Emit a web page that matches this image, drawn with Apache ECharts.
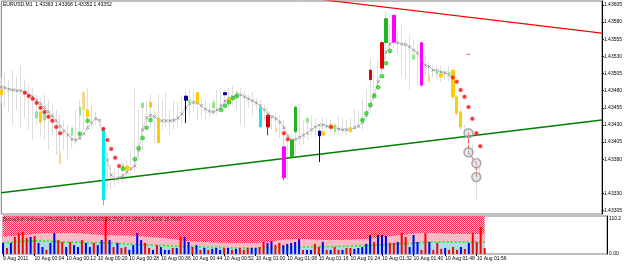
<!DOCTYPE html>
<html>
<head>
<meta charset="utf-8">
<script src="https://cdn.jsdelivr.net/npm/echarts@6/dist/echarts.min.js"></script>
<style>
  html, body { margin: 0; padding: 0; background: #fff; }
  #chart { width: 625px; height: 264px; }
</style>
</head>
<body>
<div id="chart"></div>
<script>
// EURUSD M1, one slot per minute starting 9 Aug 23:56, empty slots on the right (chart shift)
const slotCount = 154;
const tickLabels = ['9 Aug 2011', '10 Aug 00:04', '10 Aug 00:12', '10 Aug 00:20', '10 Aug 00:28',
  '10 Aug 00:36', '10 Aug 00:44', '10 Aug 00:52', '10 Aug 01:00', '10 Aug 01:08', '10 Aug 01:16',
  '10 Aug 01:24', '10 Aug 01:32', '10 Aug 01:40', '10 Aug 01:48', '10 Aug 01:56'];
const priceTicks = [1.43305, 1.43330, 1.43380, 1.43405, 1.43430, 1.43455, 1.43480,
  1.43505, 1.43530, 1.43555, 1.43580, 1.43605];
const lastPrice = 1.43352;
const headerText = 'EURUSD,M1  1.43363 1.43368 1.43352 1.43352';
const volumeText = 'BumaSoft Volume 105.0000 52.5000 35.0000 26.2500 21.0000 17.5000 15.0000';

const highs = [1.43499,1.43507,1.43496,1.43510,1.43501,1.43516,1.43496,1.43488,1.43484,1.43474,
  1.43469,1.43474,1.43466,1.43459,1.43452,1.43444,1.43437,1.43430,1.43423,1.43452,
  1.43466,1.43474,1.43484,1.43459,1.43449,1.43437,1.43426,1.43393,1.43372,1.43367,
  1.43367,1.43376,1.43379,1.43393,1.43484,1.43452,1.43452,1.43466,1.43474,1.43452,
  1.43474,1.43466,1.43478,1.43452,1.43466,1.43463,1.43474,1.43478,1.43481,1.43478,
  1.43474,1.43469,1.43466,1.43463,1.43469,1.43481,1.43484,1.43481,1.43484,1.43488,
  1.43481,1.43484,1.43481,1.43474,1.43478,1.43469,1.43466,1.43459,1.43455,1.43444,
  1.43449,1.43444,1.43437,1.43408,1.43415,1.43459,1.43461,1.43437,1.43440,1.43444,
  1.43440,1.43430,1.43440,1.43440,1.43437,1.43434,1.43444,1.43440,1.43437,1.43440,
  1.43452,1.43452,1.43466,1.43481,1.43528,1.43510,1.43525,1.43554,1.43595,1.43576,
  1.43590,1.43569,1.43576,1.43554,1.43561,1.43554,1.43547,1.43550,1.43532,1.43522,
  1.43517,1.43517,1.43517,1.43513,1.43516,1.43510,1.43474,1.43452,1.43430,1.43423,
  1.43401,1.43379,1.43368];
const lows = [1.43463,1.43455,1.43449,1.43430,1.43452,1.43426,1.43440,1.43423,1.43408,1.43430,
  1.43415,1.43408,1.43393,1.43415,1.43386,1.43372,1.43393,1.43379,1.43396,1.43401,
  1.43408,1.43423,1.43420,1.43426,1.43430,1.43426,1.43313,1.43338,1.43335,1.43341,
  1.43344,1.43345,1.43353,1.43357,1.43361,1.43379,1.43393,1.43430,1.43426,1.43404,
  1.43420,1.43423,1.43426,1.43415,1.43423,1.43426,1.43431,1.43430,1.43440,1.43449,
  1.43437,1.43444,1.43437,1.43440,1.43443,1.43444,1.43449,1.43459,1.43455,1.43459,
  1.43452,1.43430,1.43426,1.43455,1.43444,1.43452,1.43426,1.43437,1.43415,1.43423,
  1.43426,1.43411,1.43386,1.43350,1.43379,1.43382,1.43401,1.43401,1.43408,1.43415,
  1.43411,1.43376,1.43415,1.43423,1.43420,1.43415,1.43415,1.43418,1.43415,1.43420,
  1.43423,1.43426,1.43423,1.43437,1.43449,1.43466,1.43481,1.43507,1.43525,1.43532,
  1.43542,1.43532,1.43503,1.43496,1.43481,1.43525,1.43488,1.43484,1.43503,1.43496,
  1.43499,1.43496,1.43493,1.43496,1.43493,1.43466,1.43444,1.43423,1.43408,1.43386,
  1.43372,1.43321,1.43352];
// grey cross line (moving average)
const maLine = [1.43485,1.43484,1.43482,1.43481,1.43480,1.43480,1.43477,1.43474,1.43471,1.43466,
  1.43461,1.43455,1.43449,1.43443,1.43436,1.43428,1.43421,1.43415,1.43409,1.43408,
  1.43411,1.43417,1.43426,1.43433,1.43439,1.43437,1.43415,1.43379,1.43357,1.43351,
  1.43353,1.43356,1.43361,1.43366,1.43370,1.43393,1.43423,1.43440,1.43444,1.43442,
  1.43437,1.43436,1.43436,1.43436,1.43437,1.43440,1.43446,1.43455,1.43461,1.43463,
  1.43462,1.43458,1.43453,1.43450,1.43449,1.43452,1.43458,1.43465,1.43469,1.43471,
  1.43472,1.43474,1.43471,1.43468,1.43465,1.43462,1.43458,1.43452,1.43446,1.43442,
  1.43439,1.43434,1.43426,1.43414,1.43408,1.43409,1.43412,1.43415,1.43418,1.43423,
  1.43427,1.43430,1.43430,1.43428,1.43427,1.43426,1.43424,1.43423,1.43423,1.43423,
  1.43426,1.43428,1.43434,1.43444,1.43459,1.43474,1.43493,1.43513,1.43536,1.43548,
  1.43551,1.43550,1.43548,1.43547,1.43544,1.43539,1.43535,1.43525,1.43517,1.43515,
  1.43510,1.43509,1.43507,1.43506,1.43503,1.43499];

// coloured bodies: [bar, top, bottom, wick low (optional)]
const yellowBodies = [[0,1.43481,1.43474],[10,1.43449,1.43434],[22,1.43452,1.43442],[32,1.43370,1.43364],
  [38,1.43463,1.43456],[40,1.43440,1.43404],[50,1.43477,1.43462],[58,1.43469,1.43462],[82,1.43420,1.43415],
  [84,1.43430,1.43426],[89,1.43426,1.43420],[112,1.43504,1.43500],[115,1.43510,1.43471],
  [116,1.43471,1.43447],[117,1.43449,1.43427]];
const paleYellowBodies = [[15,1.43389,1.43374],[21,1.43478,1.43452],[70,1.43426,1.43420],[109,1.43503,1.43493]];
const lightGreenBodies = [[9,1.43449,1.43440],[11,1.43447,1.43437],[18,1.43426,1.43415],[20,1.43456,1.43444],
  [31,1.43372,1.43364],[36,1.43462,1.43455],[48,1.43466,1.43462],[54,1.43463,1.43455],[60,1.43478,1.43474],
  [78,1.43440,1.43434],[85,1.43430,1.43420],[92,1.43437,1.43433],[105,1.43532,1.43526],
  [111,1.43510,1.43504],[114,1.43507,1.43503]];
const greenBodies = [[74,1.43408,1.43383],[75,1.43456,1.43420],[98,1.43585,1.43550]];
const magentaBodies = [[72,1.43398,1.43353,1.43350],[100,1.43590,1.43551],[107,1.43550,1.43488]];
const cyanBodies = [[26,1.43426,1.43321,1.43313],[66,1.43455,1.43427]];
const redBodies = [[68,1.43444,1.43427,1.43415],[94,1.43510,1.43496],[97,1.43550,1.43513]];
const navyBodies = [[47,1.43472,1.43466,1.43433],[57,1.43477,1.43474],[81,1.43421,1.43414,1.43376]];

// parabolic SAR dots
const sarAbove = [[6,1.43477],[7,1.43472],[8,1.43468],[9,1.43462],[10,1.43455],[11,1.43449],[12,1.43442],
  [13,1.43436],[14,1.43427],[15,1.43418],[26,1.43424],[27,1.43408],[28,1.43395],[29,1.43382],[30,1.43370],
  [72,1.43418],[73,1.43409],[84,1.43427],[115,1.43499],[116,1.43493],[117,1.43481],[118,1.43471],
  [119,1.43456],[120,1.43439],[121,1.43418],[122,1.43399]];
const sarBelow = [[20,1.43417],[22,1.43436],[31,1.43366],[34,1.43380],[35,1.43396],[36,1.43411],[37,1.43426],
  [38,1.43437],[56,1.43452],[57,1.43458],[58,1.43463],[59,1.43469],[60,1.43472],[92,1.43437],[93,1.43447],
  [94,1.43459],[95,1.43472],[96,1.43485],[97,1.43501],[98,1.43520],[99,1.43538]];
const signalCircles = [[119,1.43418],[119,1.43390],[121,1.43374],[121,1.43354]];
const signalDash = [[119,1.43533]];

// trend lines
const resistanceLine = [[80,1.43614],[153,1.43564]];
const supportLine = [[0,1.43331],[153,1.43437]];

// volume panel
const volume = [35,19,35,54,66,70,51,54,57,35, 22,13,35,66,44,38,22,38,28,22,
  44,35,22,35,28,44,117,44,22,35, 19,22,13,28,66,44,35,19,13,28,
  22,13,13,19,19,54,54,38,22,28, 13,19,13,16,19,13,19,19,13,16,
  19,13,19,19,19,22,38,35,41,28, 35,28,32,35,38,47,13,13,13,32,
  22,38,13,13,22,13,13,19,19,16, 19,22,32,60,38,60,60,57,35,35,
  38,66,54,22,60,38,13,66,38,13, 35,16,19,13,22,13,22,16,35,66,
  38,85,19];
const volumeSide = 'BRBRRRRBRB' + 'BRBBRRBRBB' + 'RBBRBBRBRB' + 'RRBBBBRRBR' + 'BBBRBRBBRB' +
  'RBRBBBRBRB' + 'RRRBBRRBBR' + 'RBBBBBRBBR' + 'RBRBRRBRRB' + 'BBBBRBBBRR' + 'BRRBBBRRBR' +
  'RRBRRRBRBR' + 'RRR';
const volumeBand = [[0,54],[8,63],[12,66],[16,66],[25,60],[33,57],[40,51],[50,38],[63,35],[75,47],
  [83,44],[91,47],[101,60],[108,66],[116,63],[122,63]];
const volumeSignal = [[0,35],[8,41],[15,38],[25,35],[38,28],[50,22],[63,19],[75,22],[88,25],[101,32],
  [111,38],[122,38]];
const volumeTicks = [0, 110.2];

const slots = Array.from({ length: slotCount }, (_, i) => i);
const font = 'Liberation Sans';

const hatch = document.createElement('canvas');
hatch.width = 2; hatch.height = 2;
const hctx = hatch.getContext('2d');
hctx.fillStyle = '#ffbcc8'; hctx.fillRect(0, 0, 2, 2);
hctx.fillStyle = '#f03250'; hctx.fillRect(0, 0, 1, 1); hctx.fillRect(1, 1, 1, 1);

function bodySeries(rows, color, width) {
  const data = new Array(slotCount).fill('-');
  rows.forEach(r => {
    data[r[0]] = [r[1], r[2], r[3] != null ? r[3] : r[2], r[1]];
  });
  return {
    type: 'candlestick', xAxisIndex: 0, yAxisIndex: 0, z: 4,
    barWidth: width || 3,
    itemStyle: { color: color, color0: color, borderColor: color, borderColor0: color, borderWidth: 1 },
    data: data
  };
}

const chart = echarts.init(document.getElementById('chart'));
chart.setOption({
  animation: false,
  title: [
    { text: headerText, left: 3, top: 2, padding: 0,
      textStyle: { fontSize: 5, fontWeight: 'normal', color: '#000', fontFamily: font } },
    { text: volumeText, left: 3, top: 217, padding: 0, z: 20,
      textStyle: { fontSize: 5, fontWeight: 'normal', color: '#333', fontFamily: font } }
  ],
  grid: [
    { left: 1.3, right: 18, top: 1, height: 213, show: true, borderColor: '#808080', borderWidth: 1 },
    { left: 1.3, right: 18, top: 216, height: 38, show: true, borderColor: '#808080', borderWidth: 1 }
  ],
  xAxis: [
    { type: 'category', gridIndex: 0, data: slots, boundaryGap: false, show: false },
    { type: 'category', gridIndex: 1, data: slots, boundaryGap: false,
      axisLine: { show: false },
      axisTick: { show: true, length: 2, lineStyle: { color: '#000' },
        interval: i => i % 8 === 0 && i / 8 < tickLabels.length },
      axisLabel: { fontSize: 5, color: '#000', fontFamily: font, align: 'left', margin: 2,
        interval: i => i % 8 === 0 && i / 8 < tickLabels.length,
        formatter: (v, i) => tickLabels[i / 8] },
      splitLine: { show: false } }
  ],
  yAxis: [
    { type: 'value', gridIndex: 0, position: 'right', min: 1.4330, max: 1.436108, scale: true,
      axisLine: { show: true, lineStyle: { color: '#000' } },
      axisTick: { show: true, length: 2, customValues: priceTicks, lineStyle: { color: '#000' } },
      axisLabel: { customValues: priceTicks, fontSize: 5, color: '#000', fontFamily: font, margin: 2,
        formatter: v => v.toFixed(5) },
      splitLine: { show: false } },
    { type: 'value', gridIndex: 1, position: 'right', min: 0, max: 120,
      axisLine: { show: true, lineStyle: { color: '#000' } },
      axisTick: { show: false },
      axisLabel: { customValues: volumeTicks, fontSize: 5, color: '#000', fontFamily: font, margin: 2,
        formatter: v => (v === 0 ? '0.00' : String(v)) },
      splitLine: { show: false } }
  ],
  series: [
    {
      type: 'candlestick', xAxisIndex: 0, yAxisIndex: 0, barWidth: 1, z: 2,
      itemStyle: { color: '#d6d6d6', color0: '#d6d6d6', borderColor: '#d6d6d6', borderColor0: '#d6d6d6', borderWidth: 0.8 },
      data: highs.map((h, i) => [lows[i], h, lows[i], h]),
      markLine: {
        silent: true, symbol: 'none',
        lineStyle: { color: '#c8c8c8', type: 'dotted', width: 1 },
        label: { position: 'end', distance: 1, formatter: lastPrice.toFixed(5), fontSize: 5,
          fontFamily: font, color: '#fff', backgroundColor: '#000080', padding: [1, 1] },
        data: [{ yAxis: lastPrice }]
      }
    },
    {
      type: 'line', xAxisIndex: 0, yAxisIndex: 0, data: maLine, z: 3,
      symbol: 'path://M0,0L10,10M10,0L0,10', symbolSize: 3, showAllSymbol: true,
      itemStyle: { color: '#9a9a9a', borderColor: '#9a9a9a', borderWidth: 1 },
      lineStyle: { color: '#c8c8c8', width: 0.8 }
    },
    {
      type: 'line', xAxisIndex: 0, yAxisIndex: 0, data: resistanceLine, symbol: 'none', clip: true, z: 3,
      lineStyle: { color: '#ff0000', width: 1.2 }
    },
    {
      type: 'line', xAxisIndex: 0, yAxisIndex: 0, data: supportLine, symbol: 'none', clip: true, z: 3,
      lineStyle: { color: '#008000', width: 1.5 }
    },
    bodySeries(paleYellowBodies, '#f8d98c', 2),
    bodySeries(lightGreenBodies, '#8ee88e', 2),
    bodySeries(yellowBodies, '#ffcc00'),
    bodySeries(greenBodies, '#22b422'),
    bodySeries(magentaBodies, '#ff00ff'),
    bodySeries(cyanBodies, '#00eeee'),
    bodySeries(redBodies, '#dd0000'),
    bodySeries(navyBodies, '#000090'),
    {
      type: 'scatter', xAxisIndex: 0, yAxisIndex: 0, data: sarAbove, symbolSize: 4, z: 5,
      itemStyle: { color: '#ff0000', borderColor: '#ff7070', borderWidth: 0.5 }
    },
    {
      type: 'scatter', xAxisIndex: 0, yAxisIndex: 0, data: sarBelow, symbolSize: 4, z: 5,
      itemStyle: { color: '#22dd22', borderColor: '#119911', borderWidth: 0.5 }
    },
    {
      type: 'line', xAxisIndex: 0, yAxisIndex: 0, data: signalCircles, symbol: 'none', z: 5,
      lineStyle: { color: '#ff4040', type: 'dashed', width: 1 }
    },
    {
      type: 'scatter', xAxisIndex: 0, yAxisIndex: 0, data: signalCircles, symbolSize: 9, z: 6,
      itemStyle: { color: 'rgba(200,200,200,0.55)', borderColor: '#999', borderWidth: 1.5 }
    },
    {
      type: 'scatter', xAxisIndex: 0, yAxisIndex: 0, data: signalDash, symbol: 'rect', symbolSize: [4, 1], z: 5,
      itemStyle: { color: '#ff4040' }
    },
    {
      type: 'line', xAxisIndex: 1, yAxisIndex: 1, data: volumeBand, smooth: true, symbol: 'none', z: 1,
      lineStyle: { width: 0 }, areaStyle: { color: '#ffb8c6', opacity: 1 },
      markArea: {
        silent: true, z: 0,
        itemStyle: { color: { image: hatch, repeat: 'repeat' } },
        data: [[{ xAxis: 0, yAxis: 0 }, { xAxis: volume.length - 1, yAxis: 120 }]]
      }
    },
    {
      type: 'line', xAxisIndex: 1, yAxisIndex: 1, data: volumeSignal, smooth: true, symbol: 'none', z: 2,
      lineStyle: { color: '#33ee33', type: 'dotted', width: 2 }, areaStyle: { color: '#b0dcea', opacity: 1 }
    },
    {
      type: 'bar', xAxisIndex: 1, yAxisIndex: 1, barWidth: 2, z: 10,
      data: volume.map((v, i) => ({
        value: v,
        itemStyle: { color: volumeSide[i] === 'B' ? '#0000ee' : '#ff0000' }
      }))
    }
  ]
});
</script>
</body>
</html>
